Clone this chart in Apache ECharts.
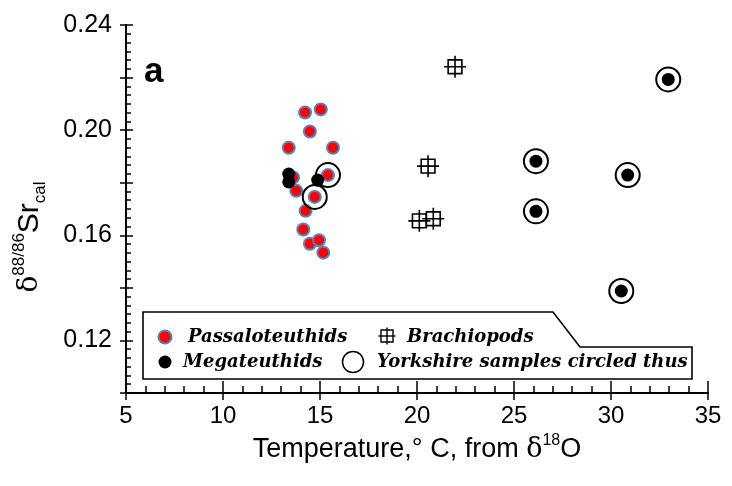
<!DOCTYPE html>
<html>
<head>
<meta charset="utf-8">
<style>
  html, body { margin: 0; padding: 0; background: #fff; }
  #main { width: 732px; height: 486px; }
</style>
<script src="https://cdn.jsdelivr.net/npm/echarts/dist/echarts.min.js"></script>
</head>
<body>
<div id="main"></div>
<script>
// Passaloteuthids (red dots)
var passX = [14.23, 15.04, 14.48, 13.39, 15.67, 13.61, 15.41, 13.78, 14.73, 14.26, 14.14, 14.48, 14.95, 15.17];
var passY = [0.2067, 0.2079, 0.1995, 0.1933, 0.1933, 0.1820, 0.1829, 0.1769, 0.1746, 0.1693, 0.1622, 0.1568, 0.1581, 0.1534];
// Megateuthids (black dots)
var megaX = [13.39, 13.39, 14.88, 32.95, 26.13, 30.86, 26.13, 30.53];
var megaY = [0.1833, 0.1803, 0.1810, 0.2193, 0.1882, 0.1829, 0.1691, 0.1388];
// Brachiopods
var brachX = [21.96, 20.57, 20.12, 20.84];
var brachY = [0.2241, 0.1863, 0.1655, 0.1663];
// Yorkshire samples (circled)
var yorkX = [15.41, 14.73, 32.95, 26.13, 30.86, 26.13, 30.53];
var yorkY = [0.1829, 0.1746, 0.2193, 0.1882, 0.1829, 0.1691, 0.1388];

var yTickLabels = ['0.12', '0.16', '0.20', '0.24'];

function pairs(xs, ys) {
  var out = [];
  for (var i = 0; i < xs.length; i++) out.push([xs[i], ys[i]]);
  return out;
}

var chart = echarts.init(document.getElementById('main'));

var gridBox = { left: 126, right: 24, top: 25, bottom: 93 };
var lineSt = { color: '#000', width: 2 };
var tickSt = { color: '#000', width: 1.5 };
var sans = 'Liberation Sans, Arial, sans-serif';
var legFont = 'bold italic 18px "DejaVu Serif", serif';

var option = {
  animation: false,
  backgroundColor: '#fff',
  grid: [
    Object.assign({}, gridBox),
    Object.assign({}, gridBox)
  ],
  xAxis: [{
    gridIndex: 0,
    type: 'value', min: 5, max: 35, interval: 5,
    axisLine: { show: true, onZero: false, lineStyle: lineSt },
    axisTick: { show: true, inside: true, length: 12, lineStyle: tickSt },
    minorTick: { show: true, splitNumber: 5, length: 7, lineStyle: tickSt },
    splitLine: { show: false },
    axisLabel: { color: '#000', fontSize: 24, fontFamily: sans, margin: 11 },
    name: '{n|Temperature,° C, from }{d|δ}{sup|18}{n|O}',
    nameLocation: 'middle',
    nameGap: 40,
    nameTextStyle: {
      rich: {
        n: { fontSize: 27, fontFamily: sans, color: '#000', lineHeight: 34 },
        d: { fontSize: 27, fontFamily: 'DejaVu Serif, serif', color: '#000', lineHeight: 34 },
        sup: { fontSize: 16, fontFamily: sans, color: '#000', verticalAlign: 'top', lineHeight: 16 }
      }
    }
  }, {
    gridIndex: 1,
    type: 'value', min: 5, max: 35, interval: 5,
    axisLine: { show: false, onZero: false },
    axisTick: { show: true, inside: false, length: 7, lineStyle: tickSt },
    axisLabel: { show: false },
    splitLine: { show: false }
  }],
  yAxis: [{
    gridIndex: 0,
    type: 'value', min: 0.10, max: 0.24, interval: 0.02,
    axisLine: { show: true, onZero: false, lineStyle: lineSt },
    axisTick: { show: true, inside: true, length: 7, lineStyle: tickSt },
    minorTick: { show: true, splitNumber: 6, length: 5, lineStyle: tickSt },
    splitLine: { show: false },
    axisLabel: {
      color: '#000', fontSize: 25, fontFamily: sans, margin: 14,
      formatter: function (v) {
        var s = v.toFixed(2);
        return yTickLabels.indexOf(s) >= 0 ? s : '';
      }
    }
  }, {
    gridIndex: 1,
    type: 'value', min: 0.10, max: 0.24, interval: 0.02,
    axisLine: { show: false, onZero: false },
    axisTick: { show: true, inside: false, length: 6, lineStyle: tickSt },
    axisLabel: { show: false },
    splitLine: { show: false }
  }],
  series: [{
    name: 'Passaloteuthids',
    type: 'scatter',
    data: pairs(passX, passY),
    symbol: 'circle', symbolSize: 12,
    itemStyle: { color: '#ff0000', borderColor: '#5a82b8', borderWidth: 2, opacity: 1 }
  }, {
    name: 'Megateuthids',
    type: 'scatter',
    data: pairs(megaX, megaY),
    symbol: 'circle', symbolSize: 13,
    itemStyle: { color: '#000', opacity: 1 }
  }, {
    name: 'Yorkshire',
    type: 'scatter',
    data: pairs(yorkX, yorkY),
    symbol: 'circle', symbolSize: 24,
    itemStyle: { color: 'rgba(0,0,0,0)', borderColor: '#000', borderWidth: 2, opacity: 1 }
  }, {
    name: 'Brachiopods',
    type: 'scatter',
    data: pairs(brachX, brachY),
    symbol: 'path://M-1,-1H1V1H-1ZM0,-1.6V1.6M-1.6,0H1.6',
    symbolSize: 22,
    itemStyle: { color: 'rgba(0,0,0,0)', borderColor: '#000', borderWidth: 1.6, opacity: 1 }
  }],
  graphic: [
    // panel letter
    { type: 'text', left: 144, top: 55, style: { text: 'a', font: 'bold 35px "Liberation Sans", Arial', fill: '#000' } },
    // y axis title
    {
      type: 'text', x: 30, y: 237, rotation: Math.PI / 2,
      style: {
        text: '{d|δ}{sup|88/86}{m|Sr}{sub|cal}',
        align: 'center', verticalAlign: 'middle',
        rich: {
          d: { fontSize: 28, fontFamily: 'DejaVu Serif, serif', fill: '#000', lineHeight: 38 },
          sup: { fontSize: 17, fontFamily: sans, fill: '#000', verticalAlign: 'top', lineHeight: 17 },
          m: { fontSize: 30, fontFamily: sans, fill: '#000', lineHeight: 38 },
          sub: { fontSize: 17, fontFamily: sans, fill: '#000', verticalAlign: 'bottom', lineHeight: 17 }
        }
      }
    },
    // legend box
    {
      type: 'polygon',
      shape: { points: [[143, 312], [553, 312], [580, 347], [692, 347], [692, 379], [143, 379]] },
      style: { fill: '#fff', stroke: '#000', lineWidth: 1.6 },
      z: 10
    },
    { type: 'circle', shape: { cx: 165, cy: 337, r: 6.5 }, style: { fill: '#ff0000', stroke: '#5a82b8', lineWidth: 2 }, z: 11 },
    { type: 'text', x: 188, y: 337, style: { text: 'Passaloteuthids', font: legFont, fill: '#000', verticalAlign: 'middle' }, z: 11 },
    { type: 'rect', shape: { x: 381, y: 330, width: 12, height: 12 }, style: { fill: 'none', stroke: '#000', lineWidth: 1.4 }, z: 11 },
    { type: 'line', shape: { x1: 378.5, y1: 336, x2: 395.5, y2: 336 }, style: { stroke: '#000', lineWidth: 1.4 }, z: 11 },
    { type: 'line', shape: { x1: 387, y1: 327.5, x2: 387, y2: 344.5 }, style: { stroke: '#000', lineWidth: 1.4 }, z: 11 },
    { type: 'text', x: 407, y: 337, style: { text: 'Brachiopods', font: legFont, fill: '#000', verticalAlign: 'middle' }, z: 11 },
    { type: 'circle', shape: { cx: 165, cy: 362, r: 6.5 }, style: { fill: '#000' }, z: 11 },
    { type: 'text', x: 183, y: 362, style: { text: 'Megateuthids', font: legFont, fill: '#000', verticalAlign: 'middle' }, z: 11 },
    { type: 'circle', shape: { cx: 353, cy: 362, r: 10.5 }, style: { fill: 'none', stroke: '#000', lineWidth: 1.5 }, z: 11 },
    { type: 'text', x: 377, y: 362, style: { text: 'Yorkshire samples circled thus', font: legFont, fill: '#000', verticalAlign: 'middle' }, z: 11 }
  ]
};

chart.setOption(option);
</script>
</body>
</html>
